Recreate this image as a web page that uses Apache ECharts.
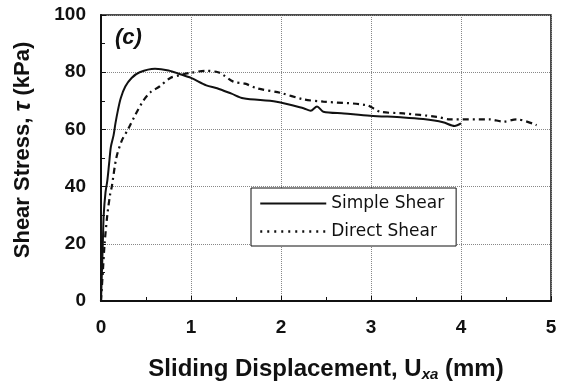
<!DOCTYPE html>
<html>
<head>
<meta charset="utf-8">
<script src="https://cdn.jsdelivr.net/npm/echarts@6/dist/echarts.min.js"></script>
<style>
  html, body { margin: 0; padding: 0; background: #fff; }
  #chart { width: 563px; height: 389px; }
</style>
</head>
<body>
<div id="chart"></div>
<script>
// displacement (mm), shear stress (kPa)
var simpleShear = [
  [0, 0], [0.01, 10], [0.02, 20], [0.03, 30], [0.05, 38], [0.07, 42], [0.09, 48],
  [0.11, 54], [0.14, 58], [0.16, 62], [0.19, 67], [0.22, 71], [0.27, 75], [0.34, 78],
  [0.43, 80], [0.6, 81.2], [0.75, 80.6], [0.88, 79.3], [1.0, 78], [1.17, 75.4],
  [1.29, 74.4], [1.45, 72.5], [1.58, 70.9], [1.95, 69.7], [2.25, 67.4], [2.33, 66.5],
  [2.4, 68], [2.47, 66.2], [2.7, 65.6], [2.99, 64.8], [3.36, 64.2], [3.58, 63.6],
  [3.8, 62.5], [3.93, 61.2], [4.0, 62.1]
];
var directShear = [
  [0, 0], [0.02, 10], [0.04, 20], [0.07, 30], [0.1, 37], [0.12, 40], [0.17, 50],
  [0.23, 56], [0.3, 60], [0.38, 65], [0.47, 70], [0.55, 73], [0.65, 75], [0.77, 78],
  [0.88, 79], [1.0, 79.8], [1.17, 80.5], [1.3, 80], [1.36, 79], [1.47, 76.7],
  [1.6, 76], [1.73, 74.4], [1.99, 72.8], [2.25, 70.5], [2.47, 69.7], [2.95, 68.5],
  [3.1, 66.2], [3.36, 65.6], [3.73, 64.4], [3.88, 63.5], [4.32, 63.5], [4.47, 62.7],
  [4.62, 63.5], [4.84, 61.5]
];
var seriesNames = ['Simple Shear', 'Direct Shear'];

var fontMain = 'Liberation Sans, Arial, sans-serif';

var option = {
  backgroundColor: '#fff',
  animation: false,
  title: {
    text: '(c)',
    left: 110,
    top: 22,
    textStyle: { fontFamily: fontMain, fontSize: 22, fontWeight: 'bold', fontStyle: 'italic', color: '#111' }
  },
  grid: {
    left: 101, right: 12, top: 15, bottom: 88,
    show: true, borderColor: '#111', borderWidth: 1.5, backgroundColor: 'transparent'
  },
  legend: {
    orient: 'vertical',
    left: 251,
    top: 188,
    padding: [7, 12, 6, 8],
    itemGap: 11,
    itemWidth: 66,
    itemHeight: 14,
    borderColor: '#111',
    borderWidth: 1,
    backgroundColor: '#fff',
    itemStyle: { opacity: 0 },
    data: [
      { name: seriesNames[0] },
      { name: seriesNames[1], lineStyle: { type: [2, 5], width: 2.5 } }
    ],
    textStyle: { fontFamily: 'DejaVu Sans, sans-serif', fontSize: 17, color: '#111' }
  },
  xAxis: {
    type: 'value',
    min: 0, max: 5, interval: 1,
    name: '{a|Sliding Displacement, U}{b|xa}{a| (mm)}',
    nameLocation: 'middle',
    nameGap: 56,
    nameTextStyle: {
      rich: {
        a: { fontFamily: fontMain, fontSize: 24, fontWeight: 'bold', color: '#111' },
        b: { fontFamily: fontMain, fontSize: 15, fontWeight: 'bold', fontStyle: 'italic', color: '#111', verticalAlign: 'bottom', padding: [10, 0, 0, 0] }
      }
    },
    axisLine: { lineStyle: { color: '#111', width: 2 } },
    axisTick: { inside: true, length: 5, lineStyle: { color: '#111' } },
    minorTick: { show: true, splitNumber: 2, length: 4, lineStyle: { color: '#111' } },
    splitLine: { show: true, lineStyle: { color: '#888', type: 'dotted', width: 1 } },
    axisLabel: { fontFamily: fontMain, fontSize: 19, fontWeight: 'bold', color: '#111', margin: 17 }
  },
  yAxis: {
    type: 'value',
    min: 0, max: 100, interval: 20,
    name: '{a|Shear Stress, }{b|τ}{a| (kPa)}',
    nameLocation: 'middle',
    nameGap: 66,
    nameRotate: 90,
    nameTextStyle: {
      padding: [0, 0, 0, 16],
      rich: {
        a: { fontFamily: fontMain, fontSize: 22, fontWeight: 'bold', color: '#111' },
        b: { fontFamily: fontMain, fontSize: 24, fontWeight: 'bold', fontStyle: 'italic', color: '#111' }
      }
    },
    axisLine: { show: true, lineStyle: { color: '#111', width: 2 } },
    axisTick: { show: true, inside: true, length: 5, lineStyle: { color: '#111' } },
    minorTick: { show: true, splitNumber: 2, length: 4, lineStyle: { color: '#111' } },
    splitLine: { show: true, lineStyle: { color: '#888', type: 'dotted', width: 1 } },
    axisLabel: { fontFamily: fontMain, fontSize: 19, fontWeight: 'bold', color: '#111', margin: 15 }
  },
  series: [
    {
      name: seriesNames[0],
      type: 'line',
      data: simpleShear,
      symbol: 'none',
      smooth: 0.3,
      lineStyle: { color: '#111', width: 2 },
      itemStyle: { color: '#111' }
    },
    {
      name: seriesNames[1],
      type: 'line',
      data: directShear,
      symbol: 'none',
      smooth: 0.3,
      lineStyle: { color: '#111', width: 2.2, type: [6, 4, 2, 4] },
      itemStyle: { color: '#111' }
    }
  ]
};

var myChart = echarts.init(document.getElementById('chart'));
myChart.setOption(option);
</script>
</body>
</html>
